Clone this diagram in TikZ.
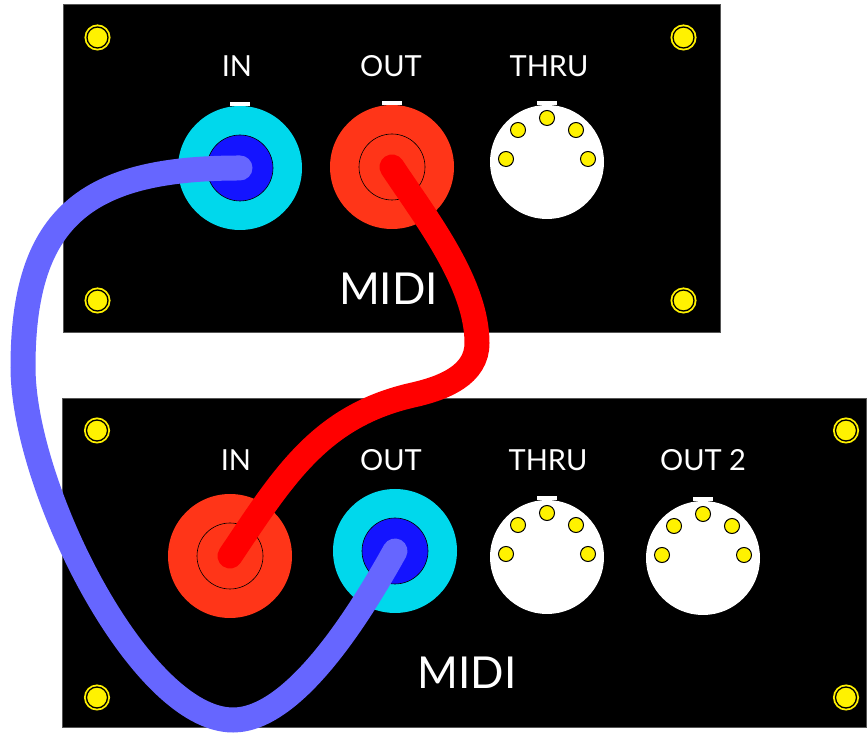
\documentclass[tikz,border=0pt]{standalone}
\usepackage{fontspec}
\setmainfont{Lato}
\usetikzlibrary{positioning,calc}
\definecolor{jackcyan}{RGB}{0,216,236}
\definecolor{jackblue}{RGB}{20,20,255}
\definecolor{jackred}{RGB}{255,53,24}
\definecolor{leadblue}{RGB}{102,102,255}
\definecolor{leadred}{RGB}{255,0,0}
\definecolor{rim}{RGB}{85,85,85}
\tikzset{
  panel/.style={draw=rim,fill=black,line width=1pt,inner sep=0pt},
  screw/.style={circle,fill=yellow,draw=black,line width=1.3pt,minimum size=21pt,inner sep=0pt,
                preaction={draw=yellow,line width=5pt}},
  socket/.style={circle,minimum size=124pt,inner sep=0pt},
  core/.style={circle,draw=black,line width=0.6pt,minimum size=66pt,inner sep=0pt},
  din/.style={circle,fill=white,minimum size=114pt,inner sep=0pt},
  dinpin/.style={circle,fill=yellow,draw=black,line width=1pt,minimum size=15pt,inner sep=0pt},
  tab/.style={fill=white,minimum width=20pt,minimum height=4pt,inner sep=0pt},
  jacklbl/.style={text=white,inner sep=0pt,font=\fontsize{29}{29}\selectfont},
  brand/.style={text=white,inner sep=0pt,font=\fontsize{44}{44}\selectfont},
  cable/.style={line width=25pt,line cap=round},
}

\begin{document}
\begin{tikzpicture}[x=1pt,y=1pt]
  \useasboundingbox (0,0) rectangle (867,733);
  % front panels
  \node[panel,minimum width=657pt,minimum height=328pt] (unitA) at (391.5,564) {};
  \node[panel,minimum width=804pt,minimum height=329pt] (unitB) at (464.5,169.5) {};
  % corner screws
  \foreach \c/\dx/\dy [count=\i] in {north west/35/-33,north east/-37/-33,south west/35/33,south east/-37/33}
    \node[screw] (sA\i) at ([xshift=\dx,yshift=\dy]unitA.\c) {};
  \foreach \c/\dx/\dy [count=\i] in {north west/35/-32,north east/-21/-32,south west/35/31,south east/-21/31}
    \node[screw] (sB\i) at ([xshift=\dx,yshift=\dy]unitB.\c) {};

  % upper unit
  \node[socket,fill=jackcyan] (aIn) at (240,565) {};
  \node[core,fill=jackblue] (aInCore) at (aIn) {};
  \node[socket,fill=jackred] (aOut) at (392,566) {};
  \node[core] (aOutCore) at (aOut) {};
  \node[din] (aThru) at (547,571) {};
  \foreach \j in {aIn,aOut,aThru}
    \node[tab,above=0pt of \j] (\j-tab) {};
  \node[jacklbl] (aInLbl) at (237,667) {IN};
  \node[jacklbl] (aOutLbl) at (391,667) {OUT};
  \node[jacklbl] (aThruLbl) at (549,667) {THRU};
  \node[brand] (aName) at (388.5,444) {MIDI};

  % lower unit
  \node[socket,fill=jackred] (bIn) at (230,177) {};
  \node[core] (bInCore) at (bIn) {};
  \node[socket,fill=jackcyan] (bOut) at (395,182) {};
  \node[core,fill=jackblue] (bOutCore) at (bOut) {};
  \node[din] (bThru) at (547,176) {};
  \node[din] (bOut2) at (703,175) {};
  \foreach \j in {bThru,bOut2}
    \node[tab,above=0pt of \j] (\j-tab) {};
  \node[jacklbl] (bInLbl) at (236,273) {IN};
  \node[jacklbl] (bOutLbl) at (391,273) {OUT};
  \node[jacklbl] (bThruLbl) at (548,273) {THRU};
  \node[jacklbl] (bOut2Lbl) at (703,273) {OUT 2};
  \node[brand] (bName) at (467,60) {MIDI};

  % five pins on every DIN socket
  \foreach \j in {aThru,bThru,bOut2}
    \foreach \a [count=\k] in {0,45,...,180}
      \node[dinpin] (\j-pin\k) at ($(\j.center)+(0,3)+(\a:41)$) {};

  % patch leads
  \draw[cable,leadblue] (aInCore.center) .. controls (88,565) and (23,518) .. (23,366)
    .. controls (23,246) and (140,13) .. (233,13)
    .. controls (295,13) and (361,121) .. (bOutCore.center);
  \draw[cable,leadred] (aOutCore.center) .. controls (425,516) and (477,450) .. (477,390)
    .. controls (477,358) and (444,345) .. (413,338)
    .. controls (320,317) and (283,256) .. (bInCore.center);
\end{tikzpicture}
\end{document}
